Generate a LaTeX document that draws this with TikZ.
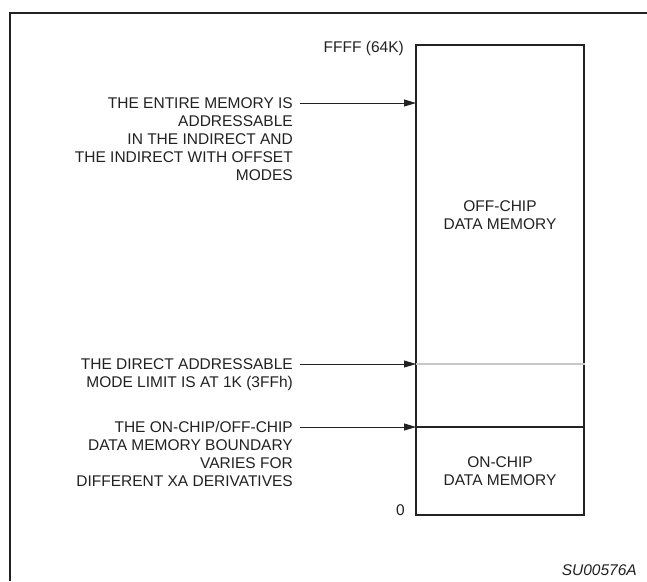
\documentclass[tikz,border=0pt]{standalone}
\usepackage{fontspec}
\setmainfont{Liberation Sans}
\usetikzlibrary{arrows.meta}
\definecolor{txt}{HTML}{222222}
\definecolor{lim}{HTML}{C8C8C8}
\begin{document}
\begin{tikzpicture}[x=1pt,y=-1pt,
 lbl/.style={font=\fontsize{15.5}{18}\selectfont, text=txt, inner sep=0pt, align=right},
 ctr/.style={font=\fontsize{15.5}{18}\selectfont, text=txt, inner sep=0pt, align=center},
 arr/.style={-{Triangle[length=12pt,width=7pt]}, line width=0.8pt, draw=txt},
]
\useasboundingbox (0,0) rectangle (647,581);
\fill[white] (0,0) rectangle (647,581);
\draw[line width=2pt, txt] (10,581) -- (10,13) -- (647,13);
\node[draw=txt, line width=2pt, minimum width=168pt, minimum height=470pt, inner sep=0pt] (mem) at (500,280) {};
\coordinate (a1) at (416,103);
\coordinate (a2) at (416,364);
\coordinate (a3) at (416,427);
\draw[line width=1.5pt, lim] (a2) -- (mem.east |- a2);
\draw[line width=2pt, txt] (a3) -- (mem.east |- a3);
\node[lbl, anchor=east] (top) at (404,48) {FFFF (64K)};
\node[lbl, anchor=east] (zero) at (405,510) {0};
\node[ctr] (off) at (500,215) {OFF-CHIP\\DATA MEMORY};
\node[ctr] (on) at (500,471) {ON-CHIP\\DATA MEMORY};
\node[lbl, anchor=north east] (l1) at (293,97.4) {THE ENTIRE MEMORY IS\\ADDRESSABLE\\IN THE INDIRECT AND\\THE INDIRECT WITH OFFSET\\MODES};
\node[lbl, anchor=north east] (l2) at (293,358.4) {THE DIRECT ADDRESSABLE\\MODE LIMIT IS AT 1K (3FFh)};
\node[lbl, anchor=north east] (l3) at (293,421.4) {THE ON-CHIP/OFF-CHIP\\DATA MEMORY BOUNDARY\\VARIES FOR\\DIFFERENT XA DERIVATIVES};
\draw[arr] ([xshift=7pt,yshift=-5.6pt]l1.north east) -- (a1);
\draw[arr] ([xshift=7pt,yshift=-5.6pt]l2.north east) -- (a2);
\draw[arr] ([xshift=7pt,yshift=-5.6pt]l3.north east) -- (a3);
\node[lbl, anchor=east, font=\fontsize{15.5}{18}\selectfont\itshape] (code) at (637,570) {SU00576A};
\end{tikzpicture}
\end{document}
